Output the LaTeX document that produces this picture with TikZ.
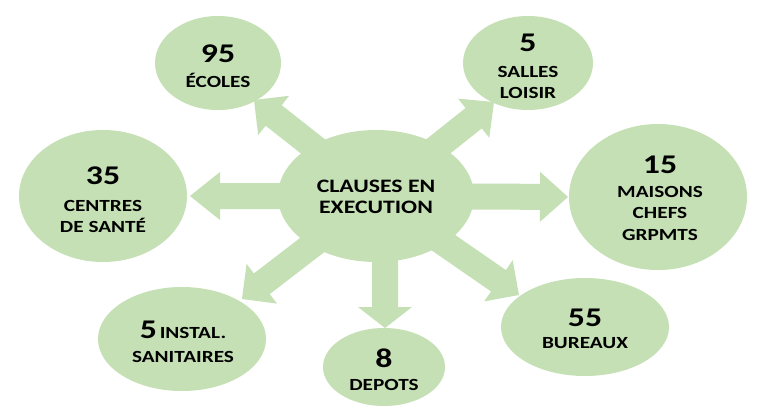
\documentclass[tikz,border=0pt]{standalone}
\usepackage{fontspec}
\setmainfont{Carlito}[FakeStretch=1.25]
\usetikzlibrary{shapes.geometric,calc}
\definecolor{leaf}{HTML}{C5E0B4}
\pgfdeclarelayer{background}
\pgfsetlayers{background,main}
\newcommand\blockarrow[4]{% from, to, head length, head half width
  \fill[leaf] ($(#1)!13pt!-90:(#2)$)
    -- ($(#2)!#3!(#1)!13pt!-90:(#2)$)
    -- ($(#2)!#3!(#1)!#4!-90:(#2)$)
    -- (#2)
    -- ($(#2)!#3!(#1)!#4!90:(#2)$)
    -- ($(#2)!#3!(#1)!13pt!90:(#2)$)
    -- ($(#1)!13pt!90:(#2)$) -- cycle;}
\begin{document}
\begin{tikzpicture}[x=1pt,y=-1pt,
  bubble/.style={ellipse, fill=leaf, draw=none, inner sep=0pt},
  num/.style={anchor=base, inner sep=0pt, font=\bfseries\fontsize{27}{27}\selectfont},
  lab/.style={anchor=base, inner sep=0pt, font=\bfseries\fontsize{17}{17}\selectfont},
  big/.style={anchor=base, inner sep=0pt, font=\bfseries\fontsize{19}{19}\selectfont}]
\useasboundingbox (0,0) rectangle (768,417);

% bubbles
\node[bubble, minimum width=196pt, minimum height=132pt] (hub) at (376,196) {};
\node[bubble, minimum width=126pt, minimum height=94pt] (ecoles) at (218,63) {};
\node[bubble, minimum width=130pt, minimum height=94pt] (salles) at (528,63) {};
\node[bubble, minimum width=168pt, minimum height=132pt] (centres) at (103,196) {};
\node[bubble, minimum width=178pt, minimum height=146pt] (maisons) at (658,197) {};
\node[bubble, minimum width=168pt, minimum height=98pt] (bureaux) at (585,327) {};
\node[bubble, minimum width=168pt, minimum height=104pt] (instal) at (182,339) {};
\node[bubble, minimum width=122pt, minimum height=78pt] (depots) at (384,367) {};

% arrow tips
\coordinate (tEcoles) at (254,100);
\coordinate (tSalles) at (494,102);
\coordinate (tCentres) at (190,196);
\coordinate (tMaisons) at (568,197);
\coordinate (tDepots) at (385,328);
\coordinate (sDepots) at (385,196);
\coordinate (tInstal) at (242,299);
\coordinate (tBureaux) at (519,295);

\begin{pgfonlayer}{background}
  \fill[white] (0,0) rectangle (768,417);
  \blockarrow{hub}{tEcoles}{25pt}{25pt}
  \blockarrow{hub}{tSalles}{26pt}{25pt}
  \blockarrow{hub}{tCentres}{30pt}{24pt}
  \blockarrow{hub}{tMaisons}{28pt}{25pt}
  \blockarrow{sDepots}{tDepots}{21pt}{27pt}
  \blockarrow{hub}{tInstal}{25pt}{25pt}
  \blockarrow{hub}{tBureaux}{25pt}{25pt}
\end{pgfonlayer}

% texts
\node[big] (hubA) at (376,192) {CLAUSES EN};
\node[big] (hubB) at (376,213) {EXECUTION};

\node[num] (ecolesN) at (218,63) {95};
\node[lab] (ecolesL) at (218,88) {ÉCOLES};

\node[num] (sallesN) at (528,52) {5};
\node[lab] (sallesA) at (528,78) {SALLES};
\node[lab] (sallesB) at (528,99) {LOISIR};

\node[num] (centresN) at (103,184) {35};
\node[lab] (centresA) at (103,211) {CENTRES};
\node[lab] (centresB) at (103,232) {DE SANTÉ};

\node[num] (maisonsN) at (660,173) {15};
\node[lab] (maisonsA) at (660,197) {MAISONS};
\node[lab] (maisonsB) at (660,218) {CHEFS};
\node[lab] (maisonsC) at (660,240) {GRPMTS};

\node[num] (bureauxN) at (585,326) {55};
\node[lab] (bureauxL) at (585,348) {BUREAUX};

\node[anchor=base, inner sep=0pt] (instalA) at (183,338) {{\bfseries\fontsize{27}{27}\selectfont 5} {\bfseries\fontsize{17}{17}\selectfont INSTAL.}};
\node[lab] (instalB) at (183,362) {SANITAIRES};

\node[num] (depotsN) at (384,367) {8};
\node[lab] (depotsL) at (384,390) {DEPOTS};
\end{tikzpicture}
\end{document}
